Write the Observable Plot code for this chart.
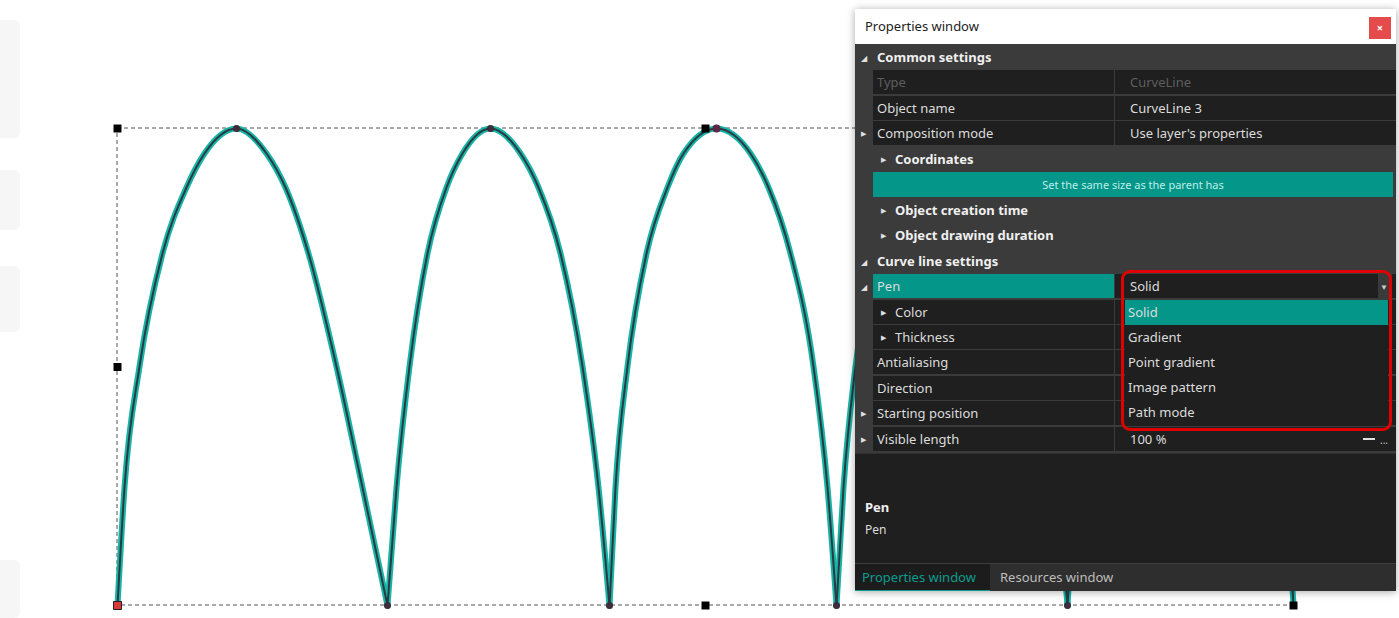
<!DOCTYPE html>
<html>
<head>
<meta charset="utf-8">
<script src="https://cdn.jsdelivr.net/npm/d3@7"></script>
<script src="https://cdn.jsdelivr.net/npm/@observablehq/plot@0.6"></script>
<style>
html,body{margin:0;padding:0;background:#fff;}
#wrap{position:relative;width:1399px;height:618px;overflow:hidden;font-family:"Noto Sans","Open Sans",sans-serif;}
#chart{position:absolute;left:0;top:0;}
.faint{position:absolute;left:0;width:20px;background:#f6f6f6;border-radius:0 6px 6px 0;}
.panel{position:absolute;left:855px;top:9px;width:541px;height:582px;background:#3b3b3b;box-shadow:0 1px 8px rgba(0,0,0,.35);overflow:hidden;}
.titlebar{position:absolute;left:0;top:0;width:541px;height:35px;background:#fff;color:#222;font-size:13px;line-height:35px;text-indent:10px;}
.close{position:absolute;left:514px;top:8px;width:22px;height:22px;background:#e64b4b;color:#fff;font-size:11px;line-height:21px;text-align:center;text-indent:0;font-weight:bold;}
.row{position:absolute;left:0;width:541px;height:25px;font-size:13px;line-height:25px;color:#dcdcdc;white-space:nowrap;}
.cellL{position:absolute;left:18px;width:241px;height:24px;background:#1f1f1f;}
.cellR{position:absolute;left:260px;width:281px;height:24px;background:#1f1f1f;}
.lbl{position:absolute;}
.tri{position:absolute;font-size:7px;color:#e0e0e0;line-height:25px;}
.desc{position:absolute;left:0;top:444px;width:541px;height:109px;background:#1f1f1f;border-top:1px solid #303030;}
.tabs{position:absolute;left:0;top:554px;width:541px;height:28px;background:#2e2e2e;border-top:1px solid #3d3d3d;font-size:13px;line-height:27px;}
.dd{position:absolute;left:270px;top:291px;width:263px;height:126px;background:#1f1f1f;}
.ring{position:absolute;left:266px;top:261px;width:265px;height:155px;border:3px solid #e10000;border-radius:9px;}
</style>
</head>
<body>
<div id="wrap"></div>
<script>
// ---------- curve data (object units: x from left edge of the frame, y height above the bottom edge) ----------
const frameWidth = 1176;
const frameHeight = 477;
const levels = [0, 118, 239, 352, 418, 452];          // sample heights, bottom to near top
const archLeft = [
  [0, 7, 22, 45, 69, 87],
  [270, 279, 292, 310, 329, 345],
  [492, 498, 510, 529, 550, 566],
  [719, 726, 738, 757, 778, 794],
  [950, 957, 969, 988, 1009, 1025]
];
const archPeak = [119, 373, 599, 828, 1059];
const archRight = [
  [270, 245, 219, 191, 168, 149],
  [492, 481, 465, 443, 421, 403],
  [719, 710, 696, 673, 651, 633],
  [950, 940, 926, 903, 881, 863],
  [1176, 1169, 1156, 1133, 1111, 1094]
];
const troughs = [0, 270, 492, 719, 950, 1176];

// ---------- properties window text ----------
const panelTitle = "Properties window";
const rowLabels = ["Common settings","Type","Object name","Composition mode","Coordinates","Set the same size as the parent has","Object creation time","Object drawing duration","Curve line settings","Pen","Color","Thickness","Antialiasing","Direction","Starting position","Visible length"];
const rowValues = ["","CurveLine","CurveLine 3","Use layer's properties","","","","","","Solid","","","","","","100 %"];
const rowKinds  = ["header","disabled","prop","propx","group","button","group","group","header","pen","sub","sub","prop","prop","propx","propx"];
const dropdownItems = ["Solid","Gradient","Point gradient","Image pattern","Path mode"];
const descTitle = "Pen";
const descText = "Pen";
const tabLabels = ["Properties window","Resources window"];

// ---------- build curve table ----------
const curve = [];
archPeak.forEach((p, a) => {
  levels.forEach((h, i) => curve.push({arch: a, x: archLeft[a][i], y: h}));
  curve.push({arch: a, x: p, y: frameHeight});
  for (let i = levels.length - 1; i >= 0; i--) curve.push({arch: a, x: archRight[a][i], y: levels[i]});
});
const nodes = [
  ...troughs.slice(1).map(x => ({x, y: 0})),
  ...archPeak.map(x => ({x, y: frameHeight}))
];
const handles = [];
[0, frameWidth / 2, frameWidth].forEach(x => [0, frameHeight / 2, frameHeight].forEach(y => {
  if (!(x === frameWidth / 2 && y === frameHeight / 2) && !(x === 0 && y === 0)) handles.push({x, y});
}));

const wrap = document.getElementById("wrap");
[[20,118],[170,60],[266,66],[560,58]].forEach(([t,h]) => {
  const f = document.createElement("div"); f.className = "faint"; f.style.top = t + "px"; f.style.height = h + "px"; wrap.appendChild(f);
});

const chart = Plot.plot({
  width: 1399, height: 618,
  margin: 0, marginTop: 0, marginRight: 0, marginBottom: 0, marginLeft: 0,
  x: {domain: [-117, 1282], axis: null},
  y: {domain: [-13, 605], axis: null},
  style: {background: "transparent"},
  marks: [
    Plot.rect([{x1: 0, x2: frameWidth, y1: 0, y2: frameHeight}], {x1: "x1", x2: "x2", y1: "y1", y2: "y2", fill: "none", stroke: "#555", strokeWidth: 1, strokeDasharray: "4,3"}),
    Plot.line(curve, {x: "x", y: "y", z: "arch", curve: "monotone-x", stroke: "#17b4a6", strokeWidth: 6, strokeLinecap: "round"}),
    Plot.line(curve, {x: "x", y: "y", z: "arch", curve: "monotone-x", stroke: "#2b3942", strokeWidth: 2}),
    Plot.dot(nodes, {x: "x", y: "y", r: 3.5, fill: "#3d2c3a"}),
    Plot.dot([{x: archPeak[2], y: frameHeight}], {x: "x", y: "y", r: 4, fill: "#5b2746"}),
    Plot.dot(handles, {x: "x", y: "y", symbol: "square", r: 4.5, fill: "#000"}),
    Plot.dot([{x: 0, y: 0}], {x: "x", y: "y", symbol: "square", r: 4.5, fill: "#d93a3a", stroke: "#222", strokeWidth: 1})
  ]
});
chart.id = "chart";
wrap.appendChild(chart);

// ---------- properties panel ----------
const panel = document.createElement("div");
panel.className = "panel";
wrap.appendChild(panel);
const el = (cls, css, txt, parent) => {
  const d = document.createElement("div");
  if (cls) d.className = cls;
  Object.assign(d.style, css || {});
  if (txt != null) d.textContent = txt;
  (parent || panel).appendChild(d);
  return d;
};
const tb = el("titlebar", {}, panelTitle);
el("close", {}, "×", tb);

const rowTop = i => 36 + i * 25.45;
rowLabels.forEach((label, i) => {
  const kind = rowKinds[i];
  const r = el("row", {top: rowTop(i) + "px"});
  if (kind === "header") {
    el("tri", {left: "6px", fontSize: "8px", top: "0px"}, "◢", r);
    el("lbl", {left: "22px", fontWeight: "bold", color: "#f0f0f0"}, label, r);
  } else if (kind === "group") {
    el("tri", {left: "26px"}, "▶", r);
    el("lbl", {left: "40px", fontWeight: "bold", color: "#f0f0f0"}, label, r);
  } else if (kind === "button") {
    el("", {position: "absolute", left: "18px", width: "520px", height: "25px", background: "#05968a", color: "#bfeee8", fontSize: "11px", textAlign: "center"}, label, r);
  } else {
    el("cellL", kind === "pen" ? {background: "#05968a"} : {}, null, r);
    el("cellR", {}, null, r);
    if (kind === "propx") el("tri", {left: "6px"}, "▶", r);
    if (kind === "pen") el("tri", {left: "6px", fontSize: "8px"}, "◢", r);
    if (kind === "sub") {
      el("tri", {left: "26px"}, "▶", r);
      el("lbl", {left: "40px"}, label, r);
    } else {
      el("lbl", {left: "22px", color: kind === "disabled" ? "#5e5e5e" : "#dcdcdc"}, label, r);
    }
    if (rowValues[i]) el("lbl", {left: "275px", color: kind === "disabled" ? "#5e5e5e" : "#dcdcdc"}, rowValues[i], r);
    if (kind === "pen") {
      el("", {position: "absolute", left: "523px", top: "0px", width: "14px", height: "24px", background: "#3a3a3a"}, null, r);
      el("", {position: "absolute", left: "525px", top: "0px", fontSize: "8px", color: "#ccc"}, "▼", r);
    }
    if (label === "Visible length") {
      el("", {position: "absolute", left: "508px", top: "11px", width: "12px", height: "2px", background: "#e0e0e0"}, null, r);
      el("", {position: "absolute", left: "525px", top: "1px", fontSize: "10px", color: "#ccc"}, "...", r);
    }
  }
});

const dd = el("dd", {});
dropdownItems.forEach((item, i) => {
  el("", {position: "absolute", left: "0px", top: (i * 25) + "px", width: "263px", height: "25px", lineHeight: "25px", fontSize: "13px", textIndent: "3px", color: "#dcdcdc", background: i === 0 ? "#05968a" : "transparent"}, item, dd);
});
el("ring", {});

const desc = el("desc", {});
el("", {position: "absolute", left: "10px", top: "44px", fontSize: "13px", fontWeight: "bold", color: "#f0f0f0"}, descTitle, desc);
el("", {position: "absolute", left: "10px", top: "67px", fontSize: "12px", color: "#dcdcdc"}, descText, desc);

const tabs = el("tabs", {});
el("", {position: "absolute", left: "0px", top: "0px", width: "135px", height: "26px", background: "#1c1c1c", borderBottom: "2px solid #079a8d", color: "#0c9c8e", textIndent: "7px"}, tabLabels[0], tabs);
el("", {position: "absolute", left: "145px", top: "0px", color: "#bdbdbd"}, tabLabels[1], tabs);
</script>
</body>
</html>
